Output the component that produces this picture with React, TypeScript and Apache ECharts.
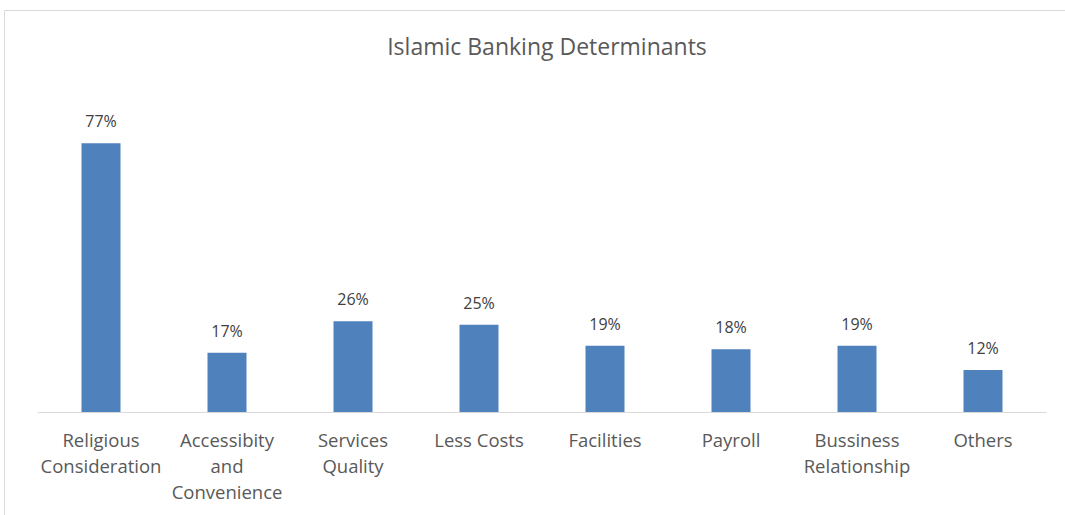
import React, { useEffect, useRef } from "react";
import * as echarts from "echarts";

const categories = [
  "Religious\nConsideration",
  "Accessibity\nand\nConvenience",
  "Services\nQuality",
  "Less Costs",
  "Facilities",
  "Payroll",
  "Bussiness\nRelationship",
  "Others",
];
const values = [77, 17, 26, 25, 19, 18, 19, 12];
const title = "Islamic Banking Determinants";

export default function App() {
  const ref = useRef<HTMLDivElement>(null);
  useEffect(() => {
    document.body.style.margin = "0";
    const chart = echarts.init(ref.current!, null, { renderer: "svg" });
    chart.setOption({
      animation: false,
      backgroundColor: "#ffffff",
      title: {
        text: title,
        left: 542,
        textAlign: "center",
        top: 29,
        textStyle: { fontFamily: "Open Sans", fontSize: 23, fontWeight: "normal", color: "#595959" },
      },
      graphic: [
        {
          type: "rect",
          shape: { x: 4.5, y: 10.5, width: 1100, height: 600 },
          style: { fill: "none", stroke: "#d9d9d9", lineWidth: 1 },
          silent: true,
          z: -1,
        },
      ],
      grid: { left: 38, right: 19, top: 63, bottom: 103 },
      xAxis: {
        type: "category",
        data: categories,
        axisLine: { show: true, lineStyle: { color: "#d9d9d9", width: 1 } },
        axisTick: { show: false },
        axisLabel: {
          interval: 0,
          margin: 14,
          fontFamily: "Open Sans",
          fontSize: 18.5,
          lineHeight: 26,
          color: "#595959",
          verticalAlign: "top",
        },
      },
      yAxis: {
        type: "value",
        min: 0,
        max: 100,
        show: false,
        splitLine: { show: false },
      },
      series: [
        {
          type: "bar",
          data: values,
          barWidth: 39,
          itemStyle: { color: "#4f81bd" },
          label: {
            show: true,
            position: "top",
            distance: 14,
            formatter: (p: any) => p.value + "%",
            fontFamily: "Open Sans",
            fontSize: 16,
            color: "#404040",
          },
        },
      ],
    });
    return () => chart.dispose();
  }, []);
  return <div ref={ref} style={{ width: 1065, height: 515, position: "absolute", left: 0, top: 0 }} />;
}
